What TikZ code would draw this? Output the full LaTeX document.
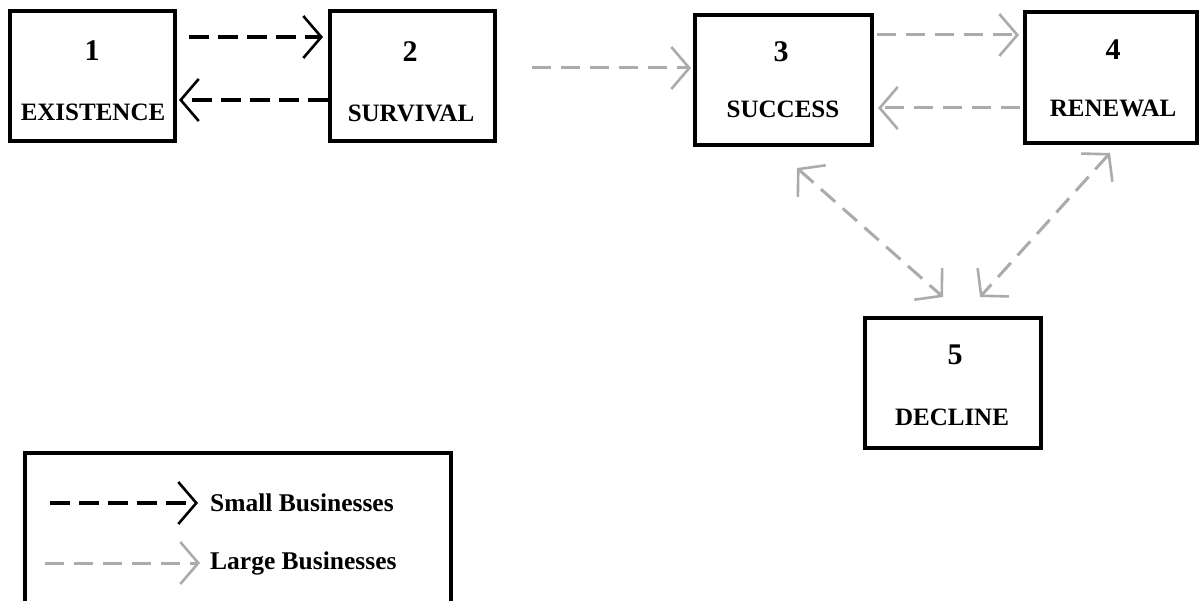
\documentclass[tikz,border=0pt]{standalone}
\usepackage{fontspec}
\setmainfont{Liberation Serif}
\usetikzlibrary{arrows.meta}

\tikzset{
  stagebox/.style={draw, line width=4pt, inner sep=0pt},
  num/.style={font=\fontsize{30}{32}\selectfont\bfseries, inner sep=0pt},
  lab/.style={font=\fontsize{25}{27}\selectfont\bfseries, inner sep=0pt},
  legtext/.style={font=\fontsize{25.5}{28}\selectfont\bfseries, inner sep=0pt, anchor=west},
  tip/.tip={Straight Barb[length=18pt,width=42pt,line width=2.6pt]},
  smallbiz/.style={draw=black, line width=4pt, dash pattern=on 20pt off 9pt, -tip},
  largebiz/.style={draw=black!33, line width=3pt, dash pattern=on 19pt off 10pt, -tip},
  bothbarb/.style={tip-tip},
}

\begin{document}
\begin{tikzpicture}[x=1pt, y=-1pt]
  \clip (0,0) rectangle (1201,601);
  \fill[white] (0,0) rectangle (1201,601);

  % stage boxes
  \node[stagebox, minimum width=165pt, minimum height=130pt] (b1) at (92.5,76) {};
  \node[stagebox, minimum width=165pt, minimum height=130pt] (b2) at (412.5,76.5) {};
  \node[stagebox, minimum width=177pt, minimum height=130pt] (b3) at (783.5,80) {};
  \node[stagebox, minimum width=172pt, minimum height=131pt] (b4) at (1111,77.5) {};
  \node[stagebox, minimum width=176pt, minimum height=130pt] (b5) at (953,383) {};

  % stage numbers and names
  \node[num] (n1) at (92,51) {1};
  \node[lab] (l1) at (93,112) {EXISTENCE};
  \node[num] (n2) at (410,52) {2};
  \node[lab] (l2) at (411,113) {SURVIVAL};
  \node[num] (n3) at (781,52) {3};
  \node[lab] (l3) at (783,109) {SUCCESS};
  \node[num] (n4) at (1113,50) {4};
  \node[lab] (l4) at (1113,108) {RENEWAL};
  \node[num] (n5) at (955,355) {5};
  \node[lab] (l5) at (952,417) {DECLINE};

  % small business transitions
  \draw[smallbiz, shorten <=12pt, shorten >=5pt]
    ([yshift=39pt]b1.east) -- ([yshift=39.5pt]b2.west);
  \draw[smallbiz, shorten >=2pt]
    ([yshift=-23.5pt]b2.west) -- ([yshift=-24pt]b1.east);

  % large business transitions
  \draw[largebiz, shorten <=35pt, shorten >=2pt]
    ([yshift=8.5pt]b2.east) -- ([yshift=12pt]b3.west);
  \draw[largebiz, shorten <=3pt, shorten >=4pt]
    ([yshift=45pt]b3.east) -- ([yshift=42.5pt]b4.west);
  \draw[largebiz, shorten <=3pt, shorten >=4pt]
    ([yshift=-30.5pt]b4.west) -- ([yshift=-28pt]b3.east);
  \draw[largebiz, bothbarb]
    ([xshift=13.5pt,yshift=-21pt]b3.south) -- ([xshift=-10pt,yshift=19pt]b5.north);
  \draw[largebiz, bothbarb]
    ([xshift=-1pt,yshift=-8pt]b4.south) -- ([xshift=27pt,yshift=19pt]b5.north);

  % legend
  \node[stagebox, minimum width=426pt, minimum height=200pt] (leg) at (237.5,553) {};
  \coordinate (s0) at (50,503);
  \coordinate (s1) at (198,503);
  \coordinate (g0) at (45,563);
  \coordinate (g1) at (200,563);
  \draw[smallbiz] (s0) -- (s1);
  \draw[largebiz] (g0) -- (g1);
  \node[legtext] (ts) at (210,503) {Small Businesses};
  \node[legtext] (tl) at (210,563) {Large Businesses};
\end{tikzpicture}
\end{document}
